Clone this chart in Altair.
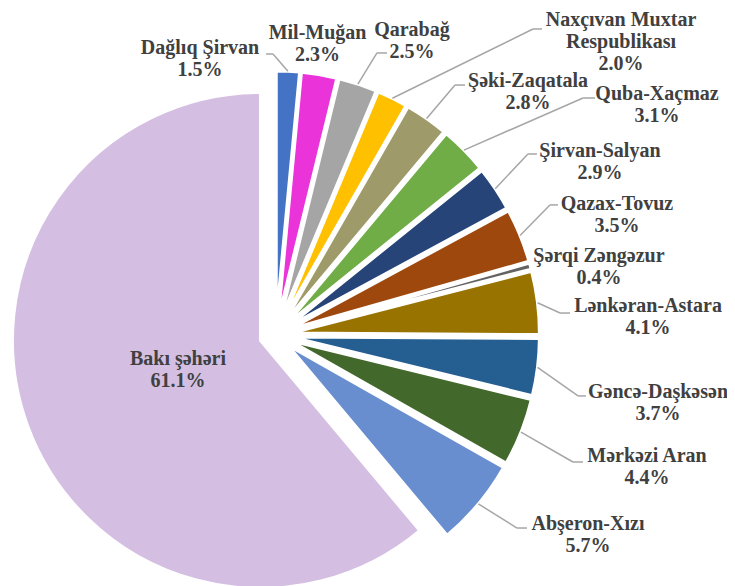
import altair as alt
import pandas as pd

# ---- data ----
regions = ["Dağlıq Şirvan", "Mil-Muğan", "Qarabağ", "Naxçıvan Muxtar Respublikası",
           "Şəki-Zaqatala", "Quba-Xaçmaz", "Şirvan-Salyan", "Qazax-Tovuz",
           "Şərqi Zəngəzur", "Lənkəran-Astara", "Gəncə-Daşkəsən", "Mərkəzi Aran",
           "Abşeron-Xızı", "Bakı şəhəri"]
shares = [1.5, 2.3, 2.5, 2.0, 2.8, 3.1, 2.9, 3.5, 0.4, 4.1, 3.7, 4.4, 5.7, 61.1]
label_names = ["Dağlıq Şirvan", "Mil-Muğan", "Qarabağ", "Naxçıvan Muxtar\nRespublikası",
               "Şəki-Zaqatala", "Quba-Xaçmaz", "Şirvan-Salyan", "Qazax-Tovuz",
               "Şərqi Zəngəzur", "Lənkəran-Astara", "Gəncə-Daşkəsən", "Mərkəzi Aran",
               "Abşeron-Xızı", "Bakı şəhəri"]

# ---- style ----
colors = ["#4472C4", "#EA33D8", "#A5A5A5", "#FFC000", "#9E9A6A", "#70AD47", "#264478",
          "#9E480E", "#636363", "#997300", "#255E91", "#43682B", "#698ED0", "#D4BFE2"]

# ---- layout (pixels) ----
CX, CY = 267.5, 327.0      # pie centre
EXPLODE = 16               # explosion of every slice
R = 248                    # pie radius
# label offset from the slice's outer edge point, and leader elbow offset
label_off = [(-87.9, -17.3), (-1.7, -35.6), (54.1, -48.2), (228.6, -72.3), (101.4, -31.5),
             (193.1, -50.1), (104.7, -31.7), (96.9, -25.6), (68.6, -4.1), (110.5, 9.3),
             (120.5, 30.7), (126.0, 29.8), (109.6, 26.1), (150.6, -60.3)]
elbow_off = [(-14.9, -17.3), (0, 0), (19.1, -31.2), (140.6, -69.3), (28.4, -33.5),
             (119.1, -52.1), (32.7, -34.7), (29.9, -30.6), (0, 0), (22.5, 10.3),
             (40.5, 28.7), (52.0, 29.8), (38.6, 24.1), (0, 0)]
hook = [-7, 0, 10, 9, 10, 12, 9, 8, 0, 10, 8, 10, 10, 0]
has_leader = [h != 0 for h in hook]

df = pd.DataFrame({
    "order": list(range(len(regions))),
    "region": regions,
    "share": shares,
    "label": [f"{n}\n{s:.1f}%" for n, s in zip(label_names, shares)],
    "ldx": [o[0] for o in label_off], "ldy": [o[1] for o in label_off],
    "edx": [o[0] for o in elbow_off], "edy": [o[1] for o in elbow_off],
    "hook": hook, "has_leader": has_leader,
})

base = (
    alt.Chart(df)
    .transform_window(cum="sum(share)", sort=[alt.SortField("order")], frame=[None, 0])
    .transform_joinaggregate(total="sum(share)")
    .transform_calculate(
        t1="datum.cum / datum.total * 2 * PI",
        t0="(datum.cum - datum.share) / datum.total * 2 * PI",
    )
    .transform_calculate(mid="(datum.t0 + datum.t1) / 2")
    .transform_calculate(
        cx=f"{CX} + {EXPLODE} * sin(datum.mid)",
        cy=f"{CY} - {EXPLODE} * cos(datum.mid)",
        px=f"{CX} + {EXPLODE + R} * sin(datum.mid)",
        py=f"{CY} - {EXPLODE + R} * cos(datum.mid)",
    )
    .transform_calculate(
        tx="datum.px + datum.ldx", ty="datum.py + datum.ldy",
        ex="datum.px + datum.edx", ey="datum.py + datum.edy",
    )
    .transform_calculate(hx="datum.ex + datum.hook")
)

arcs = base.mark_arc(outerRadius=R, stroke="white", strokeWidth=3).encode(
    theta=alt.Theta("t0:Q", scale=None, stack=False),
    theta2=alt.Theta2("t1:Q"),
    x=alt.X("cx:Q", scale=None, axis=None, stack=False),
    y=alt.Y("cy:Q", scale=None, axis=None, stack=False),
    color=alt.Color("region:N", scale=alt.Scale(domain=regions, range=colors), legend=None),
)

leader_color = "#A6A6A6"
diag = base.transform_filter("datum.has_leader").mark_rule(color=leader_color, strokeWidth=1.5).encode(
    x=alt.X("px:Q", scale=None, axis=None), y=alt.Y("py:Q", scale=None, axis=None),
    x2=alt.X2("ex:Q"), y2=alt.Y2("ey:Q"),
)
horiz = base.transform_filter("datum.has_leader").mark_rule(color=leader_color, strokeWidth=1.5).encode(
    x=alt.X("ex:Q", scale=None, axis=None), y=alt.Y("ey:Q", scale=None, axis=None),
    x2=alt.X2("hx:Q"), y2=alt.Y2("ey:Q"),
)

labels = base.mark_text(
    align="center", baseline="alphabetic", lineBreak="\n", lineHeight=22,
    font="Liberation Serif, Times New Roman, serif", fontWeight="bold",
    fontSize=20, color="#404040",
).encode(
    x=alt.X("tx:Q", scale=None, axis=None), y=alt.Y("ty:Q", scale=None, axis=None), text="label:N",
)

chart = (
    alt.layer(arcs, diag, horiz, labels)
    .properties(width=719, height=578, padding=0, autosize=alt.AutoSizeParams(type="none"))
    .configure_view(stroke=None)
)

chart.save("out.html", embed_options={"renderer": "svg", "actions": False})
